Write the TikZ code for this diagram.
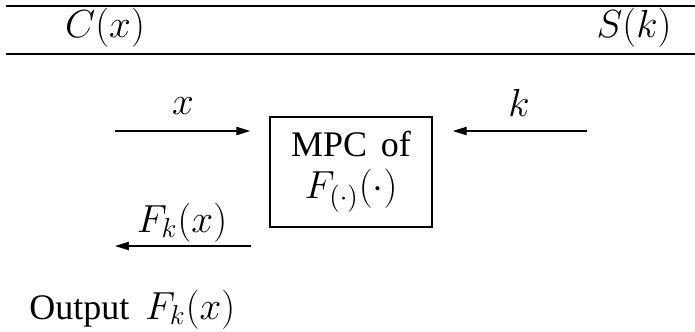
\RequirePackage{fix-cm}
\documentclass[tikz,border=0pt]{standalone}
\usepackage[no-math]{fontspec}
\setmainfont{Liberation Serif}
\usetikzlibrary{arrows.meta}
% math is set a little larger than the surrounding text
\newcommand\bigmath[1]{{\fontsize{18.8}{19.6}\selectfont$#1$}}
\tikzset{
  rule/.style={line width=0.8pt},
  arr/.style={line width=0.6pt, -{Triangle[length=6.7pt,width=4pt]}},
  block/.style={draw, line width=0.7pt, align=center, inner sep=0pt,
    minimum width=77.8pt, minimum height=52.8pt},
  lbl/.style={anchor=base, inner sep=0pt},
}
\begin{document}
\begin{tikzpicture}[x=0.48pt, y=-0.48pt, font=\fontsize{17.28}{19.6}\selectfont]
\useasboundingbox (0,0) rectangle (695,331);

% header rules with the two party names
\draw[rule] (6,6) -- (695,6);
\draw[rule] (6,54) -- (695,54);
\node[lbl] (client) at (105,37) {\bigmath{C(x)}};
\node[lbl] (server) at (634,37) {\bigmath{S(k)}};

% the protocol block
\node[block] (mpc) at (351,172) {MPC\hspace{6.5pt}of\\[0.4pt]\bigmath{F_{(\cdot)}(\cdot)}};

% inputs
\coordinate (xin) at (115,131);
\coordinate (kin) at (587,131);
\draw[arr, shorten >=9.1pt] (xin) -- (xin -| mpc.west);
\draw[arr, shorten >=9.6pt] (kin) -- (kin -| mpc.east);
\node[lbl] (xlab) at (183,114) {\bigmath{x}};
\node[lbl] (klab) at (519,116) {\bigmath{k}};

% output back to the client
\coordinate (fs) at (251,246);
\coordinate (fe) at (115,246);
\draw[arr] (fs) -- (fe);
\node[lbl] (flab) at (182,232) {\bigmath{F_k(x)}};

\node[anchor=base west, inner sep=0pt] (result) at (29,319) {Output\hspace{7.5pt}\bigmath{F_k(x)}};
\end{tikzpicture}
\end{document}
